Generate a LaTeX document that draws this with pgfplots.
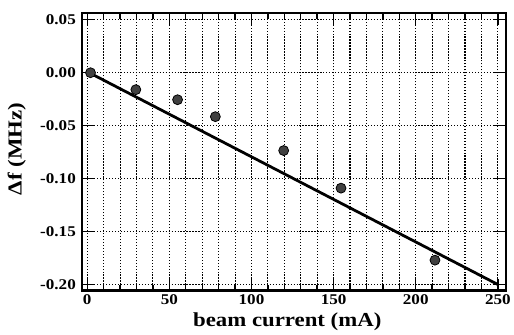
\documentclass[border=0pt]{standalone}
\usepackage{pgfplots}
\pgfplotsset{compat=1.18}
\usepackage{fontspec}
\setmainfont[FakeStretch=1.15]{Liberation Serif}
\begin{document}
\begin{tikzpicture}
\begin{axis}[
  scale only axis,
  width=427pt, height=280pt,
  xmin=-3, xmax=254.8,
  ymin=-0.2057, ymax=0.0565,
  axis line style={line width=2.2pt},
  xtick={0,50,100,150,200,250},
  minor xtick={10,20,30,40,60,70,80,90,110,120,130,140,160,170,180,190,210,220,230,240},
  ytick={-0.2,-0.15,-0.1,-0.05,0,0.05},
  yticklabels={-0.20,-0.15,-0.10,-0.05,0.00,0.05},
  xticklabels={0,50,100,150,200,250},
  tick align=inside,
  tick pos=both,
  major tick length=12pt,
  minor tick length=6pt,
  every tick/.style={black, line width=1.4pt},
  grid=both,
  xmajorgrids=true, xminorgrids=true,
  ymajorgrids=true, yminorgrids=false,
  major grid style={black, line width=1.1pt, dash pattern=on 1.2pt off 1.8pt},
  minor grid style={black, line width=1.1pt, dash pattern=on 1.2pt off 1.8pt},
  /pgf/number format/assume math mode=true,
  ticklabel style={font=\fontsize{15}{16}\selectfont\bfseries},
  xticklabel style={yshift=-1pt},
  yticklabel style={xshift=-3pt},
  xlabel={beam current (mA)},
  ylabel={Δf (MHz)},
  label style={font=\fontsize{20}{22}\selectfont\bfseries},
  xlabel style={at={(axis description cs:0.484,-0.13)}, anchor=base},
  ylabel style={at={(axis description cs:-0.1546,0.51)}, anchor=center},
  clip=false,
]
\addplot[black, line width=2.8pt] coordinates {(0,0.001) (250,-0.2)};
\addplot[only marks, mark=*, mark size=5pt, mark options={fill=black!75, draw=black, line width=0.8pt}] coordinates {
(2,0)
(29.6,-0.016)
(55,-0.0255)
(78,-0.0415)
(119.6,-0.0735)
(154.5,-0.109)
(211.7,-0.177)
};
\end{axis}
\path (current axis.south west) ++(-83pt,-41pt) coordinate (bbA);
\path (current axis.north east) ++(4pt,13pt) coordinate (bbB);
\path (bbA) rectangle (bbB);
\end{tikzpicture}
\end{document}
